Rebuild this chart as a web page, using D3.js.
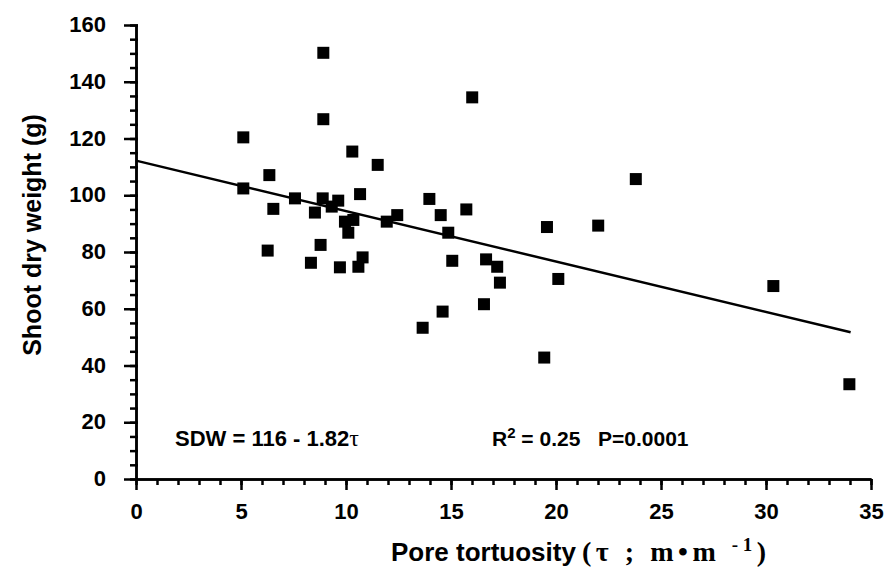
<!DOCTYPE html>
<html>
<head>
    <meta charset="utf-8">
    <script src="https://cdnjs.cloudflare.com/ajax/libs/d3/7.8.5/d3.min.js"></script>
    <style>
        body {
            margin: 0;
            background-color: #fff;
        }
        .axis path,
        .axis line {
            fill: none;
            stroke: #000;
            stroke-width: 2.5;
        }
        .axis text {
            font: bold 22px 'Liberation Sans';
            fill: #000;
        }
    </style>
</head>
<body>
    <svg width="884" height="571"></svg>
    <script>
        // pore tortuosity (x) vs shoot dry weight (y)
        var tortuosity = [5.11, 5.11, 6.27, 6.35, 6.54, 7.57, 8.33, 8.52, 8.79, 8.89, 8.92, 8.92,
                          9.32, 9.63, 9.71, 9.95, 10.11, 10.3, 10.35, 10.59, 10.67, 10.79, 11.51,
                          11.94, 12.44, 13.65, 13.97, 14.51, 14.6, 14.87, 15.06, 15.73, 16.01,
                          16.57, 16.67, 17.2, 17.33, 19.44, 19.57, 20.11, 22.01, 23.8, 30.35, 33.97];
        var shootWeight = [120.4, 102.4, 80.5, 107.1, 95.2, 98.9, 76.2, 93.9, 82.5, 98.9, 150.2, 126.8,
                           96.0, 98.1, 74.6, 90.7, 86.8, 115.4, 91.3, 74.8, 100.4, 78.1, 110.7,
                           90.7, 93.0, 53.3, 98.7, 93.0, 59.0, 86.8, 76.9, 95.0, 134.5,
                           61.6, 77.4, 74.8, 69.2, 42.8, 88.8, 70.5, 89.3, 105.7, 68.0, 33.4];
        // regression line as drawn
        var fitX = [0, 34.03];
        var fitY = [112.2, 51.7];
        var xTicks = [0, 5, 10, 15, 20, 25, 30, 35];
        var yTicks = [0, 20, 40, 60, 80, 100, 120, 140, 160];

        var svg = d3.select("svg"),
            margin = {top: 25, right: 13, bottom: 92, left: 136},
            width = svg.attr("width") - margin.left - margin.right,
            height = svg.attr("height") - margin.top - margin.bottom,
            g = svg.append("g").attr("transform", "translate(" + margin.left + "," + margin.top + ")");

        var x = d3.scaleLinear().domain([0, 35]).range([0, width]),
            y = d3.scaleLinear().domain([0, 160]).range([height, 0]);

        // minor ticks
        g.append("g")
            .attr("class", "axis")
            .attr("transform", "translate(0," + height + ")")
            .call(d3.axisBottom(x).tickValues(d3.range(0, 36, 1)).tickSize(6).tickFormat("").tickSizeOuter(0));
        g.append("g")
            .attr("class", "axis")
            .call(d3.axisLeft(y).tickValues(d3.range(0, 161, 5)).tickSize(6).tickFormat("").tickSizeOuter(0))
            .selectAll(".tick line").attr("x2", -6).attr("x1", 2);

        // major ticks with labels
        g.append("g")
            .attr("class", "axis")
            .attr("transform", "translate(0," + height + ")")
            .call(d3.axisBottom(x).tickValues(xTicks).tickSize(11).tickPadding(13).tickSizeOuter(0));
        var yAxis = g.append("g")
            .attr("class", "axis")
            .call(d3.axisLeft(y).tickValues(yTicks).tickSize(12).tickPadding(18).tickSizeOuter(0));
        yAxis.selectAll(".tick line").attr("x1", 2);
        yAxis.selectAll(".tick text").attr("dy", "0.3em");

        // regression line
        var fit = fitX.map(function(d, i) { return [d, fitY[i]]; });
        g.append("path")
            .datum(fit)
            .attr("fill", "none")
            .attr("stroke", "#000")
            .attr("stroke-width", 2.5)
            .attr("d", d3.line().x(function(d) { return x(d[0]); }).y(function(d) { return y(d[1]); }));

        // points
        var s = 12;
        g.selectAll(".dot")
            .data(tortuosity)
            .enter()
            .append("rect")
            .attr("class", "dot")
            .attr("x", function(d) { return x(d) - s / 2; })
            .attr("y", function(d, i) { return y(shootWeight[i]) - s / 2; })
            .attr("width", s)
            .attr("height", s)
            .style("fill", "#000");

        // equation and stats
        var stats = svg.append("g").style("font", "bold 22px 'Liberation Sans'");
        var eq = stats.append("text").attr("x", 175).attr("y", 446);
        eq.append("tspan").text("SDW = 116 - 1.82");
        eq.append("tspan").style("font", "24px 'Liberation Serif'").text("τ");
        var r2 = stats.append("text").attr("x", 492).attr("y", 446).style("font-size", "21px");
        r2.append("tspan").text("R");
        r2.append("tspan").attr("dy", -8).style("font-size", "15px").text("2");
        r2.append("tspan").attr("dy", 8).text(" = 0.25");
        stats.append("text").attr("x", 598).attr("y", 446).style("font-size", "21px").text("P=0.0001");

        // axis titles
        svg.append("text")
            .attr("transform", "translate(41,235) rotate(-90)")
            .attr("text-anchor", "middle")
            .style("font", "bold 25px 'Liberation Sans'")
            .text("Shoot dry weight (g)");

        svg.append("text")
            .attr("x", 391)
            .attr("y", 561)
            .style("font", "bold 26px 'Liberation Sans'")
            .text("Pore tortuosity");

        var xt = svg.append("text")
            .attr("x", 582)
            .attr("y", 561)
            .attr("textLength", 184)
            .attr("lengthAdjust", "spacing")
            .style("font", "bold 28px 'Liberation Serif'");
        xt.append("tspan").text("(τ ; m•m ");
        xt.append("tspan").attr("dy", -10).style("font-size", "19px").text("-1");
        xt.append("tspan").attr("dy", 10).text(")");
    </script>
</body>
</html>
